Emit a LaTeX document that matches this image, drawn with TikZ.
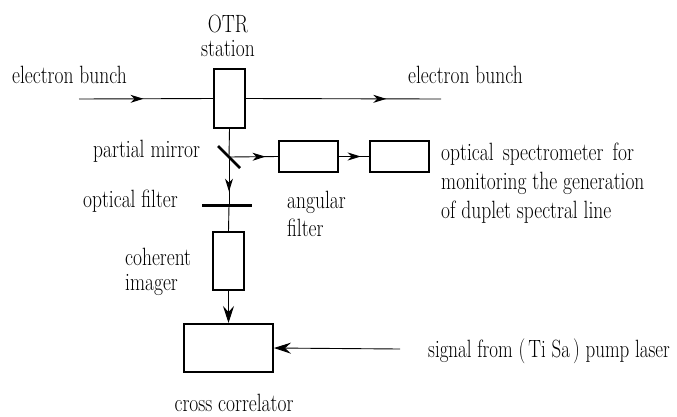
\documentclass[tikz,border=0pt]{standalone}
\usetikzlibrary{arrows.meta,decorations.markings}
\newcommand{\nar}[1]{\scalebox{0.78}[1]{#1}}
\tikzset{
  x=1pt, y=-1pt,
  box/.style={draw, line width=1.4pt, minimum width=#1, inner sep=0pt},
  lbl/.style={inner sep=0pt, font=\fontsize{25}{28}\selectfont},
  tip/.style={-{Stealth[length=17pt,width=11pt,inset=6pt]}},
  midarrow/.style={decoration={markings, mark=at position #1 with {\arrow{Stealth[length=13pt,width=8pt,inset=4pt]}}}, postaction=decorate},
  ln/.style={line width=0.9pt}
}
\begin{document}
\begin{tikzpicture}
\useasboundingbox (0,0) rectangle (677,416);
% boxes
\node[box=31pt, minimum height=59pt] (otr) at (229.5,98.5) {};
\node[box=59pt, minimum height=31pt] (ang) at (308.5,156.5) {};
\node[box=59pt, minimum height=31pt] (spec) at (399.5,156.5) {};
\node[box=31pt, minimum height=58pt] (img) at (228.5,261) {};
\node[box=89pt, minimum height=48pt, line width=2pt] (cc) at (228.5,348) {};
% mirror and filter
\coordinate (mir) at (229,157);
\coordinate (filt) at (229,205);
\coordinate (ein) at (79,99);
\coordinate (eout) at (441,99);
\coordinate (sig) at (400,349);
\draw[line width=2.6pt] (218,146) -- (240,168);
\draw[line width=3pt] (202,205) -- (252,205);
% connectors
\draw[ln, midarrow=0.48] (ein) -- (otr.west);
\draw[ln, midarrow=0.72] (otr.east) -- (eout);
\draw[ln] (otr.south) -- (mir);
\draw[ln, midarrow=0.74] (mir) -- (ang.west);
\draw[ln, midarrow=0.72] (ang.east) -- (spec.west);
\draw[ln, midarrow=0.72] (mir) -- (filt);
\draw[ln] (filt) -- (img.north);
\draw[ln, tip] (img.south) -- (cc.north);
\draw[ln, tip] (sig) -- (cc.east);
% labels
\node[lbl, anchor=base] (t1) at (228,32) {\nar{OTR}};
\node[lbl, anchor=base] (t2) at (228,56) {\nar{station}};
\node[lbl, anchor=base west] (t3) at (12,83) {\nar{electron bunch}};
\node[lbl, anchor=base west] (t4) at (408,83) {\nar{electron bunch}};
\node[lbl, anchor=base west] (t5) at (93,157) {\nar{partial mirror}};
\node[lbl, anchor=base east] (t6) at (178,207) {\nar{optical filter}};
\node[lbl, anchor=base west] (t7) at (287,208) {\nar{angular}};
\node[lbl, anchor=base west] (t8) at (287,236) {\nar{filter}};
\node[lbl, anchor=base west] (t9) at (125,265) {\nar{coherent}};
\node[lbl, anchor=base west] (t10) at (125,290) {\nar{imager}};
\node[lbl, anchor=base] (t11) at (234,411) {\nar{cross correlator}};
\node[lbl, anchor=base west] (t12) at (441,160) {\nar{optical\, spectrometer\, for}};
\node[lbl, anchor=base west] (t13) at (441,189) {\nar{monitoring the generation}};
\node[lbl, anchor=base west] (t14) at (441,218) {\nar{of duplet spectral line}};
\node[lbl, anchor=base west] (t15) at (428,357) {\scalebox{0.76}[1]{signal from (\,Ti Sa\,) pump laser}};
\end{tikzpicture}
\end{document}
